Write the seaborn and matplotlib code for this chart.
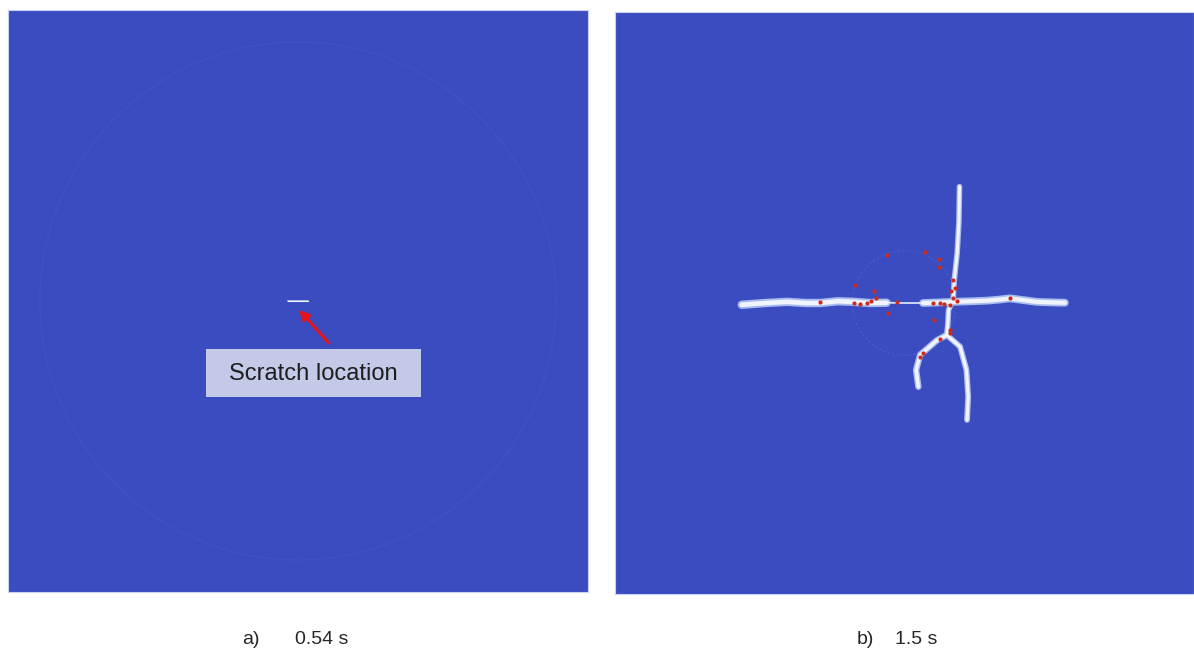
import matplotlib

matplotlib.use("Agg")
import matplotlib.pyplot as plt
import numpy as np
import pandas as pd
import seaborn as sns
from matplotlib.patches import Circle, Rectangle

sns.set_style("white")
plt.rcParams["font.family"] = ["Liberation Sans", "DejaVu Sans"]

# plate coordinates in mm, centred on the scratch (y up)
PLATE_HALF = 50

# panel a: initial scratch and the faint stress wave front
scratch_x = [-1.7, 1.7]
scratch_y = [0.0, 0.0]
wave_radius_a = 44.5

# panel b: crack paths
crack_left_x = [-28.1, -24.0, -20.3, -17.0, -14.6, -11.5, -8.8, -6.0, -3.1]
crack_left_y = [-0.3, 0.0, 0.2, 0.0, 0.0, 0.3, 0.2, 0.0, 0.05]
crack_mid_x = [-3.1, 0.0, 3.2]
crack_mid_y = [0.05, 0.0, 0.0]
crack_right_x = [3.2, 6.0, 8.4, 11.5, 14.2, 16.5, 18.2, 20.5, 22.8, 25.5, 27.7]
crack_right_y = [0.0, 0.1, 0.2, 0.3, 0.4, 0.6, 0.8, 0.5, 0.2, 0.1, 0.05]
crack_up_x = [9.5, 9.4, 9.1, 8.6, 8.4, 7.6, 7.5, 7.3]
crack_up_y = [20.0, 14.0, 8.6, 4.0, 0.5, -1.2, -3.4, -5.5]
branch_right_x = [7.3, 9.6, 10.7, 11.0, 10.8]
branch_right_y = [-5.5, -7.5, -11.5, -16.1, -20.1]
branch_left_x = [7.3, 5.6, 2.7, 2.0, 2.4]
branch_left_y = [-5.5, -6.4, -8.9, -11.5, -14.4]
wave_radius_b = 9.0

# damaged particles (red)
dot_x = [-3.1, 3.5, 6.0, 5.9, -8.5, -5.3, -5.0, -2.8, 5.1, 8.4, 8.7, 8.4, 9.0,
         7.9, 5.0, 6.1, -8.8, -7.7, -6.5, -14.6, 18.2, 7.9, 7.9, 6.1, 3.2, 2.7,
         -1.3, -5.8, 6.8, 8.0]
dot_y = [8.2, 8.8, 7.5, 6.1, 3.1, 2.1, 0.9, -1.8, -2.9, 4.0, 2.5, 0.8, 0.4,
         -0.3, 0.0, 0.05, 0.0, -0.2, 0.05, 0.1, 0.8, -4.6, -5.2, -6.1, -8.6,
         -9.2, 0.2, 0.3, -0.2, 2.0]

captions = ["a)", "b)"]
times = ["0.54 s", "1.5 s"]

BG = sns.color_palette("coolwarm", 256)[0]
CRACK_EDGE = "#a8bcef"
CRACK_CORE = "#f1f4fc"
WAVE = "#4152c2"

fig = plt.figure(figsize=(11.94, 6.54), dpi=100)
W, H = 1194, 654
ax_a = fig.add_axes([8 / W, (H - 592) / H, 580 / W, 582 / H])
ax_b = fig.add_axes([615 / W, (H - 594) / H, 579 / W, 582 / H])


def setup(ax):
    ax.set_facecolor(BG)
    ax.set_xlim(-PLATE_HALF, PLATE_HALF)
    ax.set_ylim(-PLATE_HALF, PLATE_HALF)
    ax.set_xticks([])
    ax.set_yticks([])
    for s in ax.spines.values():
        s.set_color("#c9d2f2")
        s.set_linewidth(0.8)


def crack(ax, xs, ys, lw):
    df = pd.DataFrame({"x": xs, "y": ys})
    sns.lineplot(data=df, x="x", y="y", sort=False, ax=ax, color=CRACK_EDGE,
                 lw=lw, solid_capstyle="round", zorder=2)
    sns.lineplot(data=df, x="x", y="y", sort=False, ax=ax, color=CRACK_CORE,
                 lw=lw * 0.55, solid_capstyle="round", zorder=3)


# panel a
setup(ax_a)
ax_a.add_patch(Circle((0, 0), wave_radius_a, fill=False, ec=WAVE, lw=0.9, zorder=1))
crack(ax_a, scratch_x, scratch_y, 1.4)
ax_a.annotate("", xy=(0.2, -1.5), xytext=(5.3, -7.2),
              arrowprops=dict(arrowstyle="-|>", color="#e3141b", lw=2.2,
                              mutation_scale=14, shrinkA=0, shrinkB=0), zorder=5)
ax_a.add_patch(Rectangle((198 / 580, (592 - 397) / 582), 215 / 580, 48 / 582,
                         transform=ax_a.transAxes, fc="#c3c9e6", ec="none", zorder=5))
ax_a.text((198 + 107.5) / 580, (592 - 374) / 582, "Scratch location",
          transform=ax_a.transAxes, ha="center", va="center", fontsize=17,
          color="#1e1e1e", zorder=6)

# panel b
setup(ax_b)
ax_b.add_patch(Circle((0, 0), wave_radius_b, fill=False, ec="#4a5cc8", lw=0.8,
                      ls=(0, (2, 2)), zorder=1))
crack(ax_b, crack_left_x, crack_left_y, 6.0)
crack(ax_b, crack_mid_x, crack_mid_y, 1.3)
crack(ax_b, crack_right_x, crack_right_y, 5.6)
crack(ax_b, crack_up_x, crack_up_y, 4.0)
crack(ax_b, branch_right_x, branch_right_y, 4.2)
crack(ax_b, branch_left_x, branch_left_y, 4.6)
sns.scatterplot(x=dot_x, y=dot_y, ax=ax_b, color="#cf2a1e", s=9, linewidth=0,
                zorder=4)

for ax in (ax_a, ax_b):
    ax.set_xlim(-PLATE_HALF, PLATE_HALF)
    ax.set_ylim(-PLATE_HALF, PLATE_HALF)
    ax.set_xlabel("")
    ax.set_ylabel("")

# captions under each panel
cap_font = ["Liberation Sans Narrow", "Liberation Sans", "DejaVu Sans"]
fig.text(251 / W, 1 - 640 / H, captions[0], ha="center", va="center",
         fontsize=14, family=cap_font)
fig.text(322 / W, 1 - 640 / H, times[0], ha="center", va="center",
         fontsize=14, family=cap_font)
fig.text(865 / W, 1 - 640 / H, captions[1], ha="center", va="center",
         fontsize=14, family=cap_font)
fig.text(916 / W, 1 - 640 / H, times[1], ha="center", va="center",
         fontsize=14, family=cap_font)

fig.savefig("out.png", dpi=100, facecolor="white")
